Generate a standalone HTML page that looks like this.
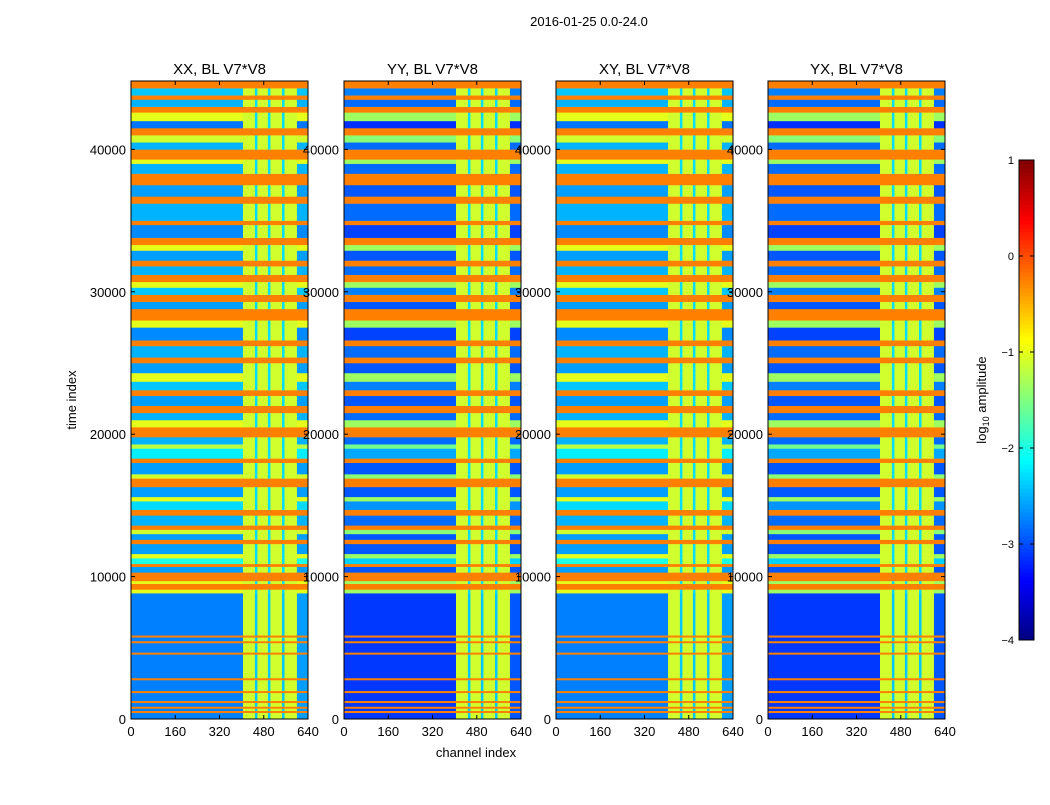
<!DOCTYPE html>
<html><head><meta charset="utf-8"><style>
body{margin:0;background:#fff;width:1050px;height:800px;overflow:hidden;font-family:"Liberation Sans",sans-serif}
svg text{font-family:"Liberation Sans",sans-serif}
</style></head><body>
<svg id="fig" width="1050" height="800" xmlns="http://www.w3.org/2000/svg">
<rect width="1050" height="800" fill="#fff"/>
<text x="589" y="26" font-size="13" text-anchor="middle">2016-01-25 0.0-24.0</text>
<text x="476" y="757" font-size="13" text-anchor="middle">channel index</text>
<text x="76" y="400" font-size="13" text-anchor="middle" transform="rotate(-90 76 400)">time index</text>
<g id="panels"></g>
<g id="cbar"></g>
</svg>
<script>
const panelTitles=["XX, BL V7*V8","YY, BL V7*V8","XY, BL V7*V8","YX, BL V7*V8"];
const panelOffset=[0,-0.35,0,-0.35];
const xTicks=[0,160,320,480,640];
const yTicks=[0,10000,20000,30000,40000];
const bandStart=[8840,9100,9500,9700,10300,10700,10900,11300,11600,12300,12600,13000,13300,13600,14300,14700,15300,15600,16300,16900,17200,18000,18300,19000,19300,19800,20500,21000,21500,22000,22700,23100,23700,24300,25000,25400,26200,26600,27500,28000,28800,29300,29800,30300,30700,31200,31800,32200,32900,33300,33800,34700,35000,36200,36700,37500,38300,39000,39300,40000,40500,41000,41500,42000,42600,43000,43500,43800,44300];
const bandVal=[-1.0,-0.25,-1.0,-0.25,-2.6,-0.25,-2.0,-1.0,-2.6,-0.25,-2.6,-1.1,-0.25,-2.5,-0.25,-2.3,-1.0,-2.6,-0.25,-1.1,-2.6,-0.25,-2.2,-1.2,-2.5,-0.25,-1.0,-2.5,-0.25,-2.6,-0.25,-2.4,-1.0,-2.6,-0.25,-2.5,-0.25,-2.7,-1.0,-0.25,-2.6,-0.25,-2.4,-1.0,-0.25,-2.5,-0.25,-2.6,-1.0,-0.25,-2.7,-0.25,-2.5,-0.25,-2.6,-0.25,-2.5,-1.0,-0.25,-2.5,-1.1,-0.25,-2.8,-1.0,-0.25,-2.5,-0.25,-2.4,-0.25];
const quietLines=[500,800,1200,1900,2800,4600,5400,5800];
const stripeChans=[452,499,550];
const tMax=44800, cMax=640;
const panelX=[131,344,556,768], PW=177, PT=81, PB=719;
const NS="http://www.w3.org/2000/svg";
function jet(v){const x=Math.max(0,Math.min(1,(v+4)/5));const c=t=>Math.round(255*Math.max(0,Math.min(1,1.5-Math.abs(4*x-t))));return `rgb(${c(3)},${c(2)},${c(1)})`;}
function mk(tag,a,p){const e=document.createElementNS(NS,tag);for(const k in a)e.setAttribute(k,a[k]);p.appendChild(e);return e;}
const root=document.getElementById('panels');
panelTitles.forEach((title,pi)=>{
  const x0=panelX[pi];
  const sx=c=>x0+c/cMax*PW, sy=t=>PB-t/tMax*(PB-PT);
  const g=mk('g',{},root);
  
  
  const cell=(c0,c1,t0,t1,v)=>{const r=mk('rect',{x:sx(c0),y:sy(t1),width:sx(c1)-sx(c0)+0.3,height:sy(t0)-sy(t1)+0.3,fill:jet(v)},g);
    
    };
  const off=panelOffset[pi];
  cell(0,405,0,bandStart[0],-2.75+off);
  cell(405,600,0,bandStart[0],-1.1);
  cell(600,640,0,bandStart[0],-2.6+off);
  stripeChans.forEach(s=>cell(s-4,s+4,0,bandStart[0],-2.4));
  quietLines.forEach(t=>cell(0,640,t-60,t+60,-0.25));
  for(let i=0;i<bandStart.length;i++){
    const t0=bandStart[i],t1=i+1<bandStart.length?bandStart[i+1]:tMax,v=bandVal[i];
    const lv=v<-0.5?v+off:v;
    cell(0,405,t0,t1,lv);
    cell(405,600,t0,t1,v<-0.5?-1.1:v);
    cell(600,640,t0,t1,lv);
    if(v<-0.5)stripeChans.forEach(s=>cell(s-4,s+4,t0,t1,-2.3));
  }
  mk('rect',{x:x0,y:PT,width:PW,height:PB-PT,fill:'none',stroke:'#000','stroke-width':1},g);
  const tt=mk('text',{x:x0+PW/2,y:PT-7,'font-size':15,'text-anchor':'middle'},g);tt.textContent=title;
  
  
  xTicks.forEach(c=>{const X=sx(c);mk('line',{x1:X,x2:X,y1:PB,y2:PB-4,stroke:'#000'},g);mk('line',{x1:X,x2:X,y1:PT,y2:PT+4,stroke:'#000'},g);
    const t=mk('text',{x:X,y:PB+17,'font-size':13,'text-anchor':'middle'},g);t.textContent=c;
    
    });
  yTicks.forEach(v=>{const Y=sy(v);mk('line',{x1:x0,x2:x0+4,y1:Y,y2:Y,stroke:'#000'},g);mk('line',{x1:x0+PW,x2:x0+PW-4,y1:Y,y2:Y,stroke:'#000'},g);
    const t=mk('text',{x:x0-5,y:Y+5,'font-size':13,'text-anchor':'end'},g);t.textContent=v;
    
    });
});
const cbTicks=[1,0,-1,-2,-3,-4];
const cb=document.getElementById('cbar');
const CX=1019,CW=15,CT=160,CB=640;
const cy=v=>CB-(v+4)/5*(CB-CT);
for(let i=0;i<120;i++){const v0=-4+i*5/120,v1=v0+5/120;mk('rect',{x:CX,y:cy(v1),width:CW,height:cy(v0)-cy(v1)+0.5,fill:jet(v0+2.5/120)},cb);}
mk('rect',{x:CX,y:CT,width:CW,height:CB-CT,fill:'none',stroke:'#000'},cb);
cbTicks.forEach(v=>{const Y=cy(v);mk('line',{x1:CX,x2:CX+4,y1:Y,y2:Y,stroke:'#000'},cb);mk('line',{x1:CX+CW,x2:CX+CW-4,y1:Y,y2:Y,stroke:'#000'},cb);
  const t=mk('text',{x:CX-5,y:Y+4,'font-size':11,'text-anchor':'end'},cb);t.textContent=String(v).replace('-','\u2212');
  
  });
const lab=mk('text',{x:986,y:400,'font-size':13,'text-anchor':'middle',transform:'rotate(-90 986 400)'},cb);
lab.innerHTML='log<tspan font-size="9" dy="3">10</tspan><tspan dy="-3"> amplitude</tspan>';


</script>
</body></html>
